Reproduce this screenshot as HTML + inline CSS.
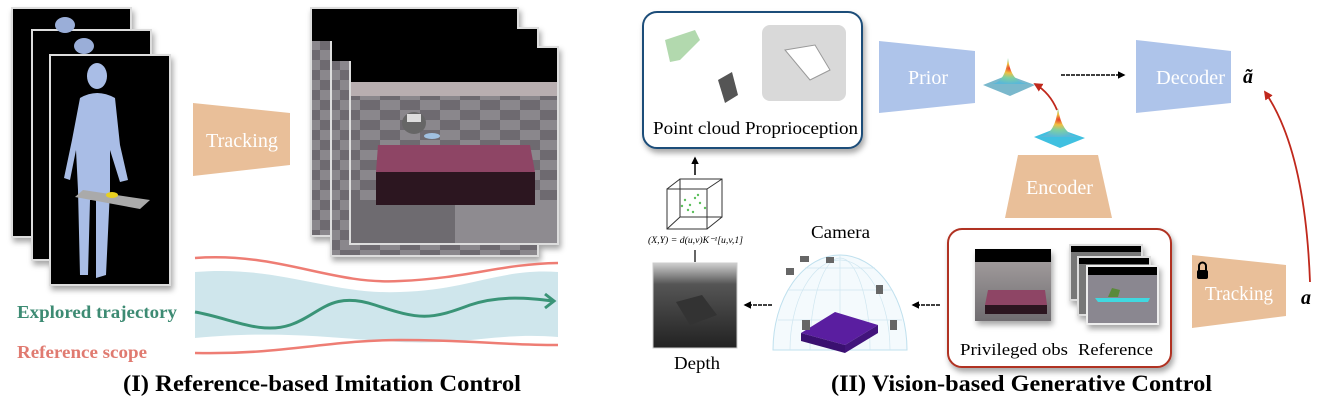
<!DOCTYPE html>
<html><head><meta charset="utf-8"><style>
html,body{margin:0;padding:0;background:#fff;}
svg{display:block;}
text{font-family:"Liberation Serif",serif;}
</style></head><body>
<svg width="1325" height="405" viewBox="0 0 1325 405" xmlns="http://www.w3.org/2000/svg">
<defs>
<filter id="sh" x="-20%" y="-20%" width="150%" height="150%"><feDropShadow dx="2" dy="4" stdDeviation="3" flood-opacity="0.35"/></filter>
<linearGradient id="dep" x1="0" y1="0" x2="0" y2="1"><stop offset="0" stop-color="#d0d0d0"/><stop offset="0.25" stop-color="#555"/><stop offset="1" stop-color="#222"/></linearGradient>
<linearGradient id="floor" x1="0" y1="0" x2="0" y2="1"><stop offset="0" stop-color="#a9a3a3"/><stop offset="1" stop-color="#6f6c70"/></linearGradient>
<radialGradient id="gau" cx="0.5" cy="0.4" r="0.6"><stop offset="0" stop-color="#e83c2c"/><stop offset="0.3" stop-color="#f0c040"/><stop offset="0.6" stop-color="#80d0a0"/><stop offset="1" stop-color="#5ab8d8"/></radialGradient>
<pattern id="chk" width="40" height="20" patternUnits="userSpaceOnUse"><rect width="40" height="20" fill="#8a878c"/><rect width="20" height="10" fill="#6e6b70"/><rect x="20" y="10" width="20" height="10" fill="#6e6b70"/></pattern>
<marker id="ab" viewBox="0 0 10 10" refX="8" refY="5" markerWidth="5" markerHeight="5" orient="auto"><path d="M0,0 L10,5 L0,10z" fill="#000"/></marker>
<marker id="ar" viewBox="0 0 10 10" refX="8" refY="5" markerWidth="5" markerHeight="5" orient="auto"><path d="M0,0 L10,5 L0,10z" fill="#c0281c"/></marker>
</defs>

<!-- Left: human frames -->
<g filter="url(#sh)">
<rect x="12" y="8" width="119" height="229" fill="#000" stroke="#ddd" stroke-width="2"/>
<rect x="32" y="30" width="119" height="230" fill="#000" stroke="#ddd" stroke-width="2"/>
<rect x="50" y="55" width="120" height="230" fill="#000" stroke="#ddd" stroke-width="2"/>
</g>
<ellipse cx="65" cy="25" rx="10" ry="8" fill="#9aaed8"/>
<ellipse cx="84" cy="46" rx="10" ry="8" fill="#9aaed8"/>
<g fill="#a9bde6">
<ellipse cx="97" cy="76" rx="10" ry="13"/>
<path d="M80,98 Q97,88 115,98 L120,145 L128,180 L120,182 L110,150 L110,190 L106,275 L96,278 L96,200 L90,200 L88,275 L80,275 L78,190 L76,150 L70,180 L64,178 L72,140 Z"/>
</g>
<polygon points="83,190 150,200 140,209 75,197" fill="#aaa"/>
<ellipse cx="112" cy="195" rx="6" ry="3" fill="#e8d020"/>

<!-- Tracking trapezoid left -->
<polygon points="193,103 290,113 290,165 193,176" fill="#e9bf99"/>
<text x="206" y="147" font-size="20" fill="#fff" textLength="72" lengthAdjust="spacingAndGlyphs">Tracking</text>

<!-- Sim frames -->
<g filter="url(#sh)">
<rect x="311" y="8" width="207" height="228" fill="url(#chk)" stroke="#ddd" stroke-width="2"/>
<rect x="331" y="28" width="207" height="228" fill="url(#chk)" stroke="#ddd" stroke-width="2"/>
<rect x="350" y="47" width="208" height="197" fill="url(#chk)" stroke="#ddd" stroke-width="2"/>
</g>
<rect x="312" y="9" width="205" height="32" fill="#000"/>
<rect x="332" y="29" width="205" height="32" fill="#000"/>
<rect x="351" y="48" width="206" height="34" fill="#000"/>
<rect x="351" y="82" width="206" height="14" fill="#b8aeb0"/>
<rect x="455" y="200" width="102" height="43" fill="#8e8b90"/>
<rect x="351" y="200" width="104" height="43" fill="#6e6b70"/>
<polygon points="378,145 530,145 535,172 376,172" fill="#8e4565"/>
<rect x="376" y="172" width="159" height="33" fill="#2c1620"/>
<ellipse cx="414" cy="123" rx="12" ry="11" fill="#666"/>
<rect x="407" y="114" width="14" height="8" fill="#ddd"/>
<ellipse cx="432" cy="136" rx="8" ry="3" fill="#a0c0e0"/>

<!-- Trajectory band -->
<path d="M195,272 C280,265 330,295 400,292 C470,290 500,268 558,272 L558,337 C500,332 470,345 400,342 C330,338 280,330 195,338 Z" fill="#cfe6ec"/>
<path d="M195,258 C280,252 330,285 400,281 C470,278 500,264 558,263" fill="none" stroke="#ee7d74" stroke-width="2.5"/>
<path d="M195,353 C280,355 330,340 400,340 C470,340 500,345 558,345" fill="none" stroke="#ee7d74" stroke-width="2.5"/>
<path d="M195,312 C230,318 260,335 290,325 C320,315 330,290 375,305 C420,320 430,320 470,305 C500,295 530,298 553,301" fill="none" stroke="#3a9477" stroke-width="3"/>
<path d="M545,294 L554,301 L545,308" fill="none" stroke="#3a9477" stroke-width="3"/>
<text x="17" y="318" font-size="18" font-weight="bold" fill="#3d8b73" textLength="160" lengthAdjust="spacingAndGlyphs">Explored trajectory</text>
<text x="17" y="358" font-size="18" font-weight="bold" fill="#e07a70" textLength="130" lengthAdjust="spacingAndGlyphs">Reference scope</text>
<text x="123" y="391" font-size="23" font-weight="bold" fill="#000" textLength="398" lengthAdjust="spacingAndGlyphs">(I) Reference-based Imitation Control</text>

<!-- Right: blue box -->
<rect x="643" y="12" width="219" height="136" rx="14" fill="#fff" stroke="#1f4e79" stroke-width="2" filter="url(#sh)"/>
<rect x="762" y="25" width="84" height="76" rx="8" fill="#d9d9d9"/>
<path d="M785,50 L815,45 L830,70 L810,80 Z" fill="#fff" stroke="#999"/>
<path d="M665,40 L695,30 L700,40 L680,60 L670,62 Z" fill="#9fd09a" opacity="0.8"/>
<path d="M718,80 L732,72 L738,95 L725,103 Z" fill="#555"/>
<text x="653" y="134" font-size="18" fill="#000" textLength="205" lengthAdjust="spacingAndGlyphs">Point cloud Proprioception</text>

<!-- Prior -->
<polygon points="879,41 975,51 975,103 879,113" fill="#aec4ea"/>
<text x="908" y="84" font-size="20" fill="#fff" textLength="40" lengthAdjust="spacingAndGlyphs">Prior</text>
<polygon points="983,85 1008,75 1035,85 1010,96" fill="#7ab8cc"/>
<path d="M990,84 Q1005,84 1008,58 Q1011,84 1030,84 Z" fill="url(#gau)"/>
<line x1="1061" y1="75" x2="1124" y2="75" stroke="#000" stroke-width="1.5" stroke-dasharray="4,1" marker-end="url(#ab)"/>
<polygon points="1136,40 1231,51 1231,103 1136,113" fill="#aec4ea"/>
<text x="1156" y="84" font-size="20" fill="#fff" textLength="69" lengthAdjust="spacingAndGlyphs">Decoder</text>
<text x="1243" y="83" font-size="20" font-weight="bold" font-style="italic" fill="#000">ã</text>

<!-- Encoder gaussian -->
<polygon points="1034,137 1057,128 1085,138 1060,148" fill="#40c0e0"/>
<path d="M1038,137 Q1055,136 1058,108 Q1062,136 1080,137 Z" fill="url(#gau)"/>
<path d="M1057,110 Q1050,93 1035,84" fill="none" stroke="#c0281c" stroke-width="1.8" marker-end="url(#ar)"/>
<polygon points="1018,155 1098,155 1112,218 1005,218" fill="#e9bf99"/>
<text x="1026" y="194" font-size="20" fill="#fff" textLength="67" lengthAdjust="spacingAndGlyphs">Encoder</text>

<!-- cube & formula -->
<line x1="695" y1="175" x2="695" y2="158" stroke="#000" stroke-width="1.5" marker-end="url(#ab)"/>
<g fill="none" stroke="#333" stroke-width="1">
<rect x="667" y="189" width="40" height="40"/>
<rect x="680" y="179" width="42" height="38"/>
<line x1="667" y1="189" x2="680" y2="179"/><line x1="707" y1="189" x2="722" y2="179"/>
<line x1="667" y1="229" x2="680" y2="217"/><line x1="707" y1="229" x2="722" y2="217"/>
</g>
<g fill="#5cbf5c"><circle cx="685" cy="200" r="1.2"/><circle cx="690" cy="205" r="1.2"/><circle cx="695" cy="198" r="1.2"/><circle cx="700" cy="203" r="1.2"/><circle cx="688" cy="210" r="1.2"/><circle cx="705" cy="208" r="1.2"/><circle cx="693" cy="212" r="1.2"/><circle cx="682" cy="206" r="1.2"/><circle cx="698" cy="195" r="1.2"/></g>
<text x="648" y="243" font-size="9" font-style="italic" fill="#000" textLength="95" lengthAdjust="spacingAndGlyphs">(X,Y) = d(u,v)K⁻¹[u,v,1]</text>
<line x1="695" y1="250" x2="695" y2="262" stroke="#000" stroke-width="1.2"/>
<rect x="653" y="263" width="84" height="85" fill="url(#dep)" stroke="#ccc"/>
<polygon points="676,302 702,295 717,315 690,325" fill="#333"/>
<text x="674" y="369" font-size="18" fill="#000" textLength="46" lengthAdjust="spacingAndGlyphs">Depth</text>
<line x1="772" y1="305" x2="745" y2="305" stroke="#000" stroke-width="1.5" stroke-dasharray="4,1" marker-end="url(#ab)"/>

<!-- dome -->
<path d="M773,350 A67,95 0 0 1 907,350 Z" fill="#f4fafd" stroke="#bfe0ee"/>
<g fill="none" stroke="#cfe6f0" stroke-width="0.7">
<path d="M790,350 A50,90 0 0 1 890,350"/><path d="M810,350 A30,92 0 0 1 870,350"/><line x1="840" y1="255" x2="840" y2="350"/>
<line x1="778" y1="320" x2="902" y2="320"/><line x1="788" y1="290" x2="892" y2="290"/><line x1="805" y1="268" x2="875" y2="268"/>
</g>
<polygon points="801,333 835,312 878,325 845,345" fill="#5a1ea0"/>
<polygon points="801,333 845,345 845,353 801,341" fill="#3a1070"/>
<polygon points="845,345 878,325 878,333 845,353" fill="#42147c"/>
<g fill="#666"><rect x="802" y="320" width="8" height="10"/><rect x="786" y="268" width="8" height="7"/><rect x="800" y="256" width="9" height="6"/><rect x="826" y="257" width="8" height="6"/><rect x="876" y="285" width="7" height="9"/><rect x="890" y="320" width="7" height="10"/></g>
<text x="811" y="238" font-size="18" fill="#000" textLength="59" lengthAdjust="spacingAndGlyphs">Camera</text>
<line x1="940" y1="305" x2="913" y2="305" stroke="#000" stroke-width="1.5" stroke-dasharray="4,1" marker-end="url(#ab)"/>

<!-- red box -->
<rect x="948" y="229" width="223" height="138" rx="14" fill="#fff" stroke="#b03020" stroke-width="2" filter="url(#sh)"/>
<rect x="975" y="249" width="76" height="72" fill="url(#floor)" filter="url(#sh)"/>
<rect x="975" y="249" width="76" height="13" fill="#000"/>
<polygon points="988,290 1045,290 1047,305 985,305" fill="#8e4565"/>
<rect x="985" y="305" width="62" height="9" fill="#2c1620"/>
<g filter="url(#sh)">
<rect x="1070" y="245" width="72" height="55" fill="#777" stroke="#ddd" stroke-width="2"/>
<rect x="1078" y="257" width="72" height="58" fill="#777" stroke="#ddd" stroke-width="2"/>
<rect x="1087" y="266" width="71" height="58" fill="#8a8790" stroke="#eee" stroke-width="2"/>
</g>
<rect x="1071" y="246" width="70" height="6" fill="#000"/>
<rect x="1079" y="258" width="70" height="6" fill="#000"/>
<rect x="1088" y="267" width="69" height="8" fill="#000"/>
<polygon points="1095,298 1150,298 1148,302 1098,302" fill="#40d8e0"/>
<path d="M1108,297 L1112,288 L1120,290 L1118,297 Z" fill="#5a8a3a"/>
<text x="960" y="355" font-size="17" fill="#000" textLength="108" lengthAdjust="spacingAndGlyphs">Privileged obs</text>
<text x="1078" y="355" font-size="17" fill="#000" textLength="75" lengthAdjust="spacingAndGlyphs">Reference</text>

<!-- tracking right -->
<polygon points="1192,255 1286,265 1286,316 1192,328" fill="#e9bf99"/>
<rect x="1197" y="270" width="11" height="9" rx="2" fill="#000"/>
<path d="M1199,271 V266 A3.5,3.5 0 0 1 1206,266 V271" fill="none" stroke="#000" stroke-width="2"/>
<text x="1205" y="300" font-size="20" fill="#fff" textLength="68" lengthAdjust="spacingAndGlyphs">Tracking</text>
<text x="1301" y="304" font-size="20" font-weight="bold" font-style="italic" fill="#000">a</text>
<path d="M1310,282 Q1305,150 1265,92" fill="none" stroke="#c0281c" stroke-width="1.8" marker-end="url(#ar)"/>

<text x="831" y="391" font-size="23" font-weight="bold" fill="#000" textLength="381" lengthAdjust="spacingAndGlyphs">(II) Vision-based Generative Control</text>
</svg>
</body></html>
